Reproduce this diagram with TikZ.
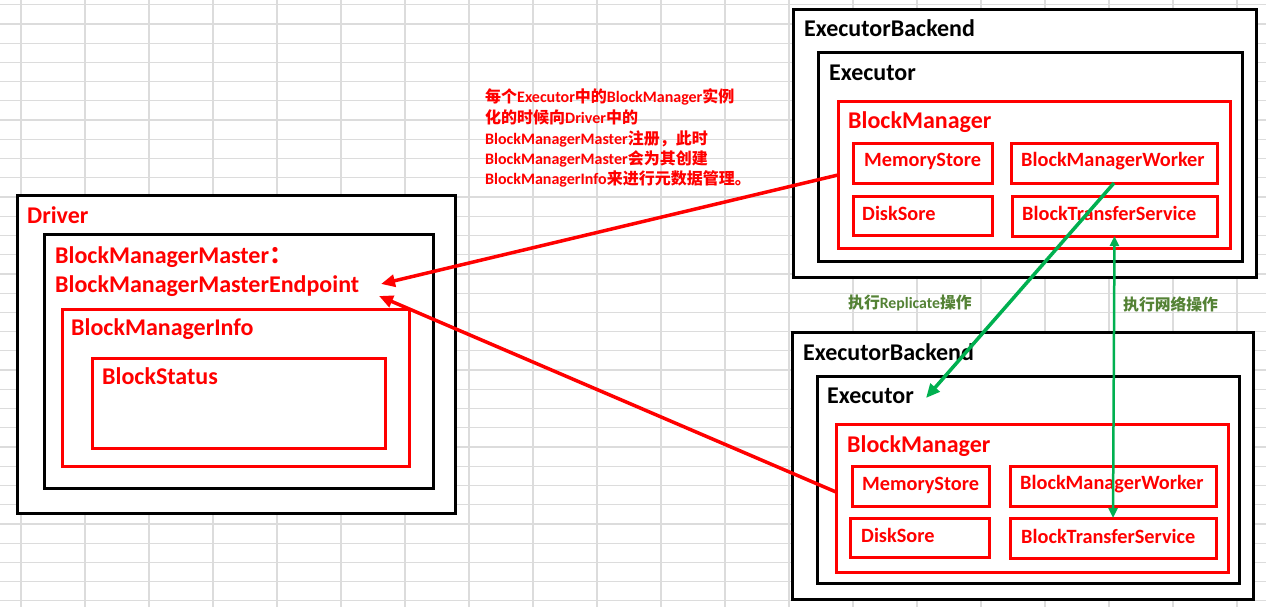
\documentclass[tikz,border=0pt]{standalone}
\usepackage{fontspec}
\setmainfont{Carlito}
\newfontfamily\cjk{Noto Sans CJK SC}
\newcommand\zh[1]{{\cjk\bfseries #1}}
\usetikzlibrary{arrows.meta}
\definecolor{gridc}{RGB}{220,220,220}
\definecolor{myred}{RGB}{255,0,0}
\definecolor{mygreen}{RGB}{0,176,80}
\definecolor{labgreen}{RGB}{84,130,53}
\begin{document}
\begin{tikzpicture}[x=1pt,y=-1pt,
  bbox/.style={draw=black,line width=3pt,fill=white,inner sep=0pt,outer sep=0pt,anchor=north west},
  rbox/.style={draw=myred,line width=3pt,fill=white,inner sep=0pt,outer sep=0pt,anchor=north west},
  bigt/.style={anchor=base west,inner sep=0pt,font=\fontsize{24}{28}\selectfont\bfseries},
  midt/.style={anchor=base west,inner sep=0pt,font=\fontsize{20.3}{24}\selectfont\bfseries},
  annot/.style={anchor=base west,inner sep=0pt,text=myred,font=\fontsize{16}{19}\selectfont\bfseries},
  glab/.style={anchor=base west,inner sep=0pt,text=labgreen,font=\fontsize{15.8}{19}\selectfont\bfseries},
  redarrow/.style={draw=myred,line width=3.5pt,-{Triangle[length=14pt,width=12pt]}},
  greenarrow/.style={draw=mygreen,line width=3.5pt,-{Triangle[length=14pt,width=12pt]}},
  greendbl/.style={draw=mygreen,line width=2.5pt,{Triangle[length=10pt,width=9pt]}-{Triangle[length=10pt,width=9pt]}}
]
\useasboundingbox (0,0) rectangle (1266,607);
\fill[white] (0,0) rectangle (1266,607);
% spreadsheet grid
\foreach \k in {0,...,19} \draw[gridc,line width=1.2pt] ({21+64*\k},0) -- ({21+64*\k},607);
\foreach \k in {0,...,31} \draw[gridc,line width=1.2pt] (0,{4.7+19.23*\k}) -- (1266,{4.7+19.23*\k});

% Driver side
\node[bbox,minimum width=438pt,minimum height=318pt] (driver) at (17,195) {};
\node[bbox,minimum width=389pt,minimum height=254pt] (bmm) at (44,234) {};
\node[rbox,minimum width=347pt,minimum height=157pt] (bmi) at (62,309) {};
\node[rbox,minimum width=293pt,minimum height=90pt] (bs) at (92,358) {};
\node[bigt,text=myred] (tdriver) at (27,223) {Driver};
\node[bigt,text=myred] (tbmm1) at (55,263) {BlockManagerMaster\zh{：}};
\node[bigt,text=myred] (tbmm2) at (55,292) {BlockManagerMasterEndpoint};
\node[bigt,text=myred] (tbmi) at (71,335) {BlockManagerInfo};
\node[bigt,text=myred] (tbs) at (102,384) {BlockStatus};

% top executor backend
\node[bbox,minimum width=463pt,minimum height=267pt] (eb1) at (793,10) {};
\node[bbox,minimum width=424pt,minimum height=208pt] (ex1) at (818,53) {};
\node[rbox,minimum width=392pt,minimum height=146pt] (bm1) at (838,102) {};
\node[rbox,minimum width=139pt,minimum height=39pt] (ms1) at (853,144) {};
\node[rbox,minimum width=206pt,minimum height=39pt] (bmw1) at (1011,144) {};
\node[rbox,minimum width=139pt,minimum height=39pt] (ds1) at (853,196) {};
\node[rbox,minimum width=205pt,minimum height=40pt] (bts1) at (1012,196) {};
\node[bigt] (teb1) at (804,37) {ExecutorBackend};
\node[bigt] (tex1) at (829,81) {Executor};
\node[bigt,text=myred] (tbm1) at (848,129) {BlockManager};
\node[midt,text=myred] (tms1) at (864,167) {MemoryStore};
\node[midt,text=myred] (tbmw1) at (1021,167) {BlockManagerWorker};
\node[midt,text=myred] (tds1) at (862,220) {DiskSore};
\node[midt,text=myred] (tbts1) at (1022,220) {BlockTransferService};

% bottom executor backend
\node[bbox,minimum width=461pt,minimum height=267pt] (eb2) at (792,332) {};
\node[bbox,minimum width=422pt,minimum height=207pt] (ex2) at (817,376) {};
\node[rbox,minimum width=392pt,minimum height=148pt] (bm2) at (836,424) {};
\node[rbox,minimum width=137pt,minimum height=40pt] (ms2) at (852,466) {};
\node[rbox,minimum width=206pt,minimum height=40pt] (bmw2) at (1010,466) {};
\node[rbox,minimum width=139pt,minimum height=39pt] (ds2) at (850,518) {};
\node[rbox,minimum width=206pt,minimum height=40pt] (bts2) at (1010,518) {};
\node[bigt] (teb2) at (803,360) {ExecutorBackend};
\node[bigt] (tex2) at (827,403) {Executor};
\node[bigt,text=myred] (tbm2) at (847,452) {BlockManager};
\node[midt,text=myred] (tms2) at (862,490) {MemoryStore};
\node[midt,text=myred] (tbmw2) at (1020,489) {BlockManagerWorker};
\node[midt,text=myred] (tds2) at (861,542) {DiskSore};
\node[midt,text=myred] (tbts2) at (1021,543) {BlockTransferService};

% annotation
\node[annot] (a1) at (485,102.7) {\zh{每个}Executor\zh{中的}BlockManager\zh{实例}};
\node[annot] (a2) at (485,123.3) {\zh{化的时候向}Driver\zh{中的}};
\node[annot] (a3) at (485,144) {BlockManagerMaster\zh{注册，此时}};
\node[annot] (a4) at (485,164.4) {BlockManagerMaster\zh{会为其创建}};
\node[annot] (a5) at (485,184.6) {BlockManagerInfo\zh{来进行元数据管理。}};

% green labels
\node[glab] (g1) at (848,308) {\zh{执行}Replicate\zh{操作}};
\node[glab] (g2) at (1123,310) {\zh{执行网络操作}};

% connectors
\coordinate (tipA) at (381,284);
\coordinate (tipB) at (379,296);
\coordinate (repTip) at (926,398);
\draw[redarrow] (bm1.west) -- (tipA);
\draw[redarrow] ([yshift=6pt]bm2.west) -- (tipB);
\draw[greenarrow] (bmw1.south) -- (repTip);
\draw[greendbl] (bts1.south) -- (bts2.north);
\end{tikzpicture}
\end{document}
